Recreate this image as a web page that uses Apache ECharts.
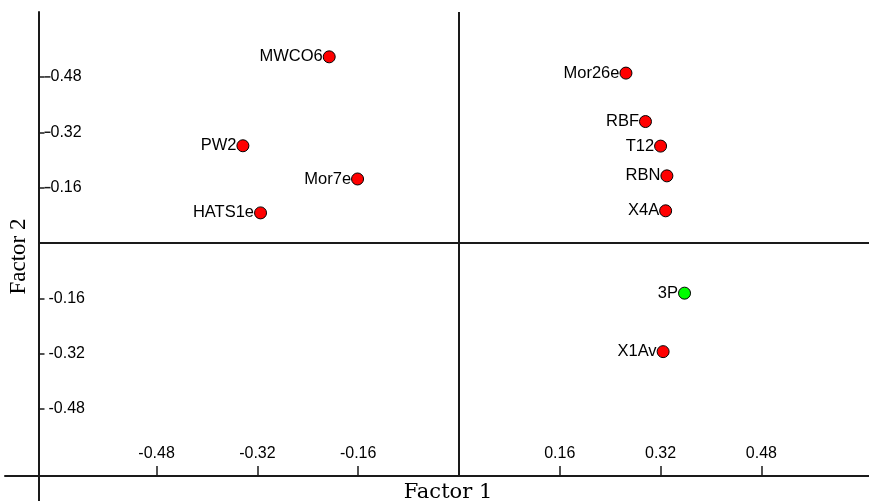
<!DOCTYPE html>
<html>
<head>
<meta charset="utf-8">
<script src="https://cdn.jsdelivr.net/npm/echarts@6/dist/echarts.min.js"></script>
<style>
html,body{margin:0;padding:0;background:#fff;}
#c{width:869px;height:501px;}
</style>
</head>
<body>
<div id="c"></div>
<script>
// ---- data ----
const categories = ['MWCO6','PW2','Mor7e','HATS1e','Mor26e','RBF','T12','RBN','X4A','3P','X1Av'];
const factor1 = [-0.206,-0.343,-0.161,-0.315,0.265,0.296,0.320,0.330,0.328,0.358,0.324];
const factor2 = [0.538,0.281,0.185,0.087,0.491,0.351,0.280,0.194,0.093,-0.145,-0.314];
const groups = ['A','A','A','A','A','A','A','A','A','B','A'];
const tickValues = [-0.48,-0.32,-0.16,0.16,0.32,0.48];
const xAxisName = 'Factor 1';
const yAxisName = 'Factor 2';

// ---- layout constants (axis ranges) ----
const X_MIN = -0.7206, X_MAX = 0.6508, X_AT_LEFT_AXIS = -0.6675;
const Y_MIN = -0.7457, Y_MAX = 0.6676, Y_AT_BOTTOM_AXIS = -0.6734;
const groupColors = {A:'#ff0000', B:'#00ff00'};

const chart = echarts.init(document.getElementById('c'), null, {renderer:'canvas'});

function makeSeries(g){
  const data = [];
  categories.forEach((n,i)=>{ if(groups[i]===g) data.push({name:n, value:[factor1[i], factor2[i]]}); });
  return {
    type:'scatter', data:data, symbol:'circle', symbolSize:12,
    itemStyle:{color:groupColors[g], borderColor:'#000', borderWidth:1, opacity:1},
    label:{show:true, position:'left', distance:0, formatter:p=>p.name,
      color:'#000', fontFamily:'Liberation Sans, Arial, sans-serif', fontSize:16.5},
    emphasis:{disabled:true}, silent:true, animation:false
  };
}

const axisLineStyle = {color:'#1a1a1a', width:2};
const series = [makeSeries('A'), makeSeries('B')];
series[0].markLine = {
  silent:true, animation:false, symbol:['none','none'],
  label:{show:false},
  lineStyle:{type:'solid', color:'#1a1a1a', width:2},
  data:[
    [{coord:[0, Y_AT_BOTTOM_AXIS]}, {coord:[0, Y_MAX]}],
    [{coord:[X_AT_LEFT_AXIS, 0]}, {coord:[X_MAX, 0]}]
  ]
};

chart.setOption({
  backgroundColor:'#fff',
  animation:false,
  grid:{left:5, right:0, top:12, bottom:0, containLabel:false, outerBoundsMode:'none'},
  xAxis:{
    type:'value', min:X_MIN, max:X_MAX, offset:-25, position:'bottom',
    name:xAxisName, nameLocation:'middle', nameGap:3,
    nameTextStyle:{color:'#000', fontFamily:'DejaVu Serif, serif', fontSize:21, padding:[0,0,0,22]},
    axisLine:{show:true, onZero:false, lineStyle:axisLineStyle},
    axisTick:{show:true, inside:true, length:10, customValues:tickValues, lineStyle:{color:'#1a1a1a', width:1.5}},
    axisLabel:{show:true, inside:true, margin:14, customValues:tickValues,
      formatter:v=>v.toFixed(2), color:'#000', fontFamily:'Liberation Sans, Arial, sans-serif', fontSize:16},
    splitLine:{show:false}
  },
  yAxis:{
    type:'value', min:Y_MIN, max:Y_MAX, offset:-33.5, position:'left',
    name:yAxisName, nameLocation:'middle', nameGap:7,
    nameTextStyle:{color:'#000', fontFamily:'Liberation Serif, Times New Roman, serif', fontSize:23},
    axisLine:{show:true, onZero:false, lineStyle:axisLineStyle},
    axisTick:{show:true, inside:true, length:6, customValues:tickValues, lineStyle:{color:'#1a1a1a', width:1.5}},
    axisLabel:{show:true, inside:true, margin:6, customValues:tickValues,
      formatter:v=> (v>0 ? '{d| }' : '{s| }') + v.toFixed(2),
      color:'#000', fontFamily:'Liberation Sans, Arial, sans-serif', fontSize:16,
      rich:{
        d:{width:6, height:1.5, backgroundColor:'#1a1a1a'},
        s:{width:4}
      }},
    splitLine:{show:false}
  },
  series:series
});
</script>
</body>
</html>
